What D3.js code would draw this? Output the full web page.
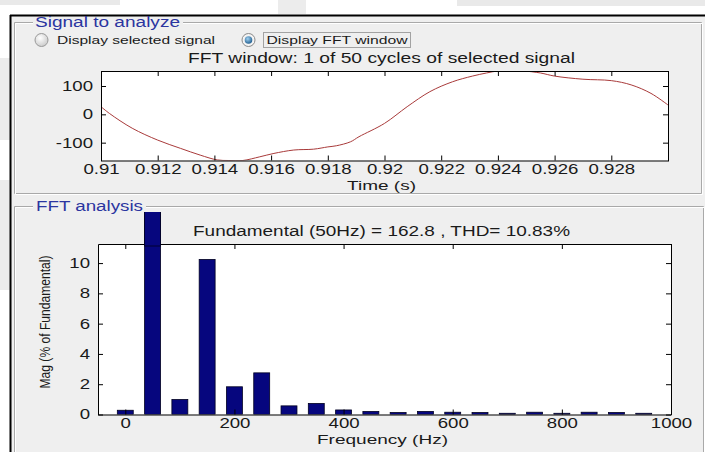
<!DOCTYPE html>
<html>
<head>
<meta charset="utf-8">
<script src="https://cdn.jsdelivr.net/npm/d3@7"></script>
<style>
  html, body { margin: 0; padding: 0; background: #ffffff; }
  svg { display: block; font-family: "Liberation Sans", Arial, Helvetica, sans-serif; }
</style>
</head>
<body>
<svg id="chart" width="705" height="452"></svg>
<script>
// ---- Signal to analyze: one cycle of the selected signal ----
const timeSec = [0.9100, 0.9103, 0.9111, 0.9120, 0.9128, 0.9135, 0.9141, 0.9145, 0.9150,
  0.9156, 0.9161, 0.9168, 0.9175, 0.9180, 0.9183, 0.9188, 0.9191, 0.9200, 0.9208,
  0.9216, 0.9224, 0.9231, 0.9236, 0.9240, 0.9245, 0.9249, 0.9255, 0.9260, 0.9270,
  0.9280, 0.9287, 0.9294, 0.9300];
const signalValues = [27, 3, -49, -91, -120, -144, -161, -163, -163,
  -150, -138, -126, -123, -115, -111, -97, -79, -32, 27,
  80, 115, 135, 146, 153, 153, 153, 146, 135, 124,
  119, 104, 74, 33];
const timeTicks = [0.91, 0.912, 0.914, 0.916, 0.918, 0.92, 0.922, 0.924, 0.926, 0.928];
const signalTicks = [-100, 0, 100];

// ---- FFT analysis: harmonic magnitudes (% of fundamental) ----
const harmonicFreqs = [0, 50, 100, 150, 200, 250, 300, 350, 400, 450, 500, 550, 600,
  650, 700, 750, 800, 850, 900, 950];
const harmonicMags = [0.28, 100, 0.99, 10.24, 1.83, 2.75, 0.57, 0.73, 0.30, 0.20, 0.13, 0.20, 0.15,
  0.13, 0.08, 0.15, 0.08, 0.15, 0.13, 0.08];
const freqTicks = [0, 200, 400, 600, 800, 1000];
const magTicks = [0, 2, 4, 6, 8, 10];

const fundamentalHz = 50;
const fundamentalAmp = 162.8;
const thdPercent = 10.83;
const cyclesTotal = 50;

const svg = d3.select("#chart");
const STRETCH = 1.33;   // wide GUI lettering
const textColor = "#1a1a1a";
const groupColor = "#2b35a0";

// stretch a text element horizontally, either by a factor or to a fixed width
function widen(sel, width) {
  sel.each(function () {
    const w = width != null ? width : this.getComputedTextLength() * STRETCH;
    d3.select(this).attr("textLength", w).attr("lengthAdjust", "spacingAndGlyphs");
  });
}

// ---- window background and outer frame ----
svg.append("rect").attr("x", 0).attr("y", 0).attr("width", 705).attr("height", 452).attr("fill", "#ffffff");
svg.append("rect").attr("x", 0).attr("y", 0).attr("width", 120).attr("height", 5).attr("fill", "#e9e9e9");
svg.append("rect").attr("x", 278).attr("y", 0).attr("width", 28).attr("height", 14).attr("fill", "#ececec");
svg.append("rect").attr("x", 457).attr("y", 0).attr("width", 248).attr("height", 6).attr("fill", "#e9e9e9");
svg.append("rect").attr("x", 0).attr("y", 58).attr("width", 10).attr("height", 82).attr("fill", "#ececec");
svg.append("rect").attr("x", 0).attr("y", 180).attr("width", 10).attr("height", 110).attr("fill", "#ececec");
svg.append("rect").attr("x", 11).attr("y", 16).attr("width", 694).attr("height", 436).attr("fill", "#efefef");
svg.append("line").attr("x1", 10).attr("x2", 705).attr("y1", 15.5).attr("y2", 15.5)
  .attr("stroke", "#000").attr("stroke-width", 2);
svg.append("line").attr("x1", 10.5).attr("x2", 10.5).attr("y1", 15).attr("y2", 452)
  .attr("stroke", "#000").attr("stroke-width", 2);

// group boxes (etched frame with a title gap)
function groupBox(x0, y0, x1, y1, gapStart, gapEnd) {
  const g = svg.append("g");
  const etched = [["#a9a9a9", 0], ["#ffffff", 1]];
  etched.forEach(([c, o]) => {
    const p = d3.path();
    p.moveTo(gapEnd, y0 + 0.5 + o); p.lineTo(x1 + 0.5 + o, y0 + 0.5 + o);
    if (y1 != null) { p.lineTo(x1 + 0.5 + o, y1 + 0.5 + o); p.lineTo(x0 + 0.5 + o, y1 + 0.5 + o); }
    else { p.lineTo(x1 + 0.5 + o, 452); p.moveTo(x0 + 0.5 + o, 452); }
    p.lineTo(x0 + 0.5 + o, y0 + 0.5 + o); p.lineTo(gapStart, y0 + 0.5 + o);
    g.append("path").attr("d", p.toString()).attr("fill", "none").attr("stroke", c).attr("stroke-width", 1);
  });
  return g;
}
groupBox(14, 22, 701, 193, 33, 183);
groupBox(14, 206, 703, null, 33, 146);

svg.append("text").attr("x", 35).attr("y", 26.5).attr("font-size", 14).attr("fill", groupColor)
  .text("Signal to analyze").call(widen, 145);
svg.append("text").attr("x", 36).attr("y", 211).attr("font-size", 14).attr("fill", groupColor)
  .text("FFT analysis").call(widen, 107);

// radio buttons
const defs = svg.append("defs");
const rg = defs.append("radialGradient").attr("id", "radioOff").attr("cx", "40%").attr("cy", "35%").attr("r", "70%");
rg.append("stop").attr("offset", "0%").attr("stop-color", "#ffffff");
rg.append("stop").attr("offset", "100%").attr("stop-color", "#c9c9c9");
const rb = defs.append("radialGradient").attr("id", "radioDot").attr("cx", "40%").attr("cy", "35%").attr("r", "70%");
rb.append("stop").attr("offset", "0%").attr("stop-color", "#9fd0f0");
rb.append("stop").attr("offset", "100%").attr("stop-color", "#1c5a8c");

svg.append("circle").attr("cx", 41.5).attr("cy", 40).attr("r", 6.5)
  .attr("fill", "url(#radioOff)").attr("stroke", "#9a9a9a");
svg.append("text").attr("x", 57).attr("y", 44).attr("font-size", 11).attr("fill", textColor)
  .text("Display selected signal").call(widen, 158);
svg.append("circle").attr("cx", 248.5).attr("cy", 40).attr("r", 6.5)
  .attr("fill", "#f4f4f4").attr("stroke", "#8a8a8a");
svg.append("circle").attr("cx", 248.5).attr("cy", 40).attr("r", 3.8).attr("fill", "url(#radioDot)");
svg.append("text").attr("x", 266.5).attr("y", 44).attr("font-size", 11).attr("fill", textColor)
  .text("Display FFT window").call(widen, 141);
svg.append("rect").attr("x", 263.5).attr("y", 32.5).attr("width", 147).attr("height", 15)
  .attr("fill", "none").attr("stroke", "#555").attr("stroke-dasharray", "1,1");

function styleAxis(g) {
  g.select(".domain").remove();
  g.selectAll(".tick line").attr("stroke", "#000");
  g.selectAll(".tick text").attr("fill", textColor).attr("font-size", 14).attr("font-family", null);
}
const plainNum = d => String(d);

// ---- upper axes: time signal ----
const sigBox = { l: 101, r: 668, t: 71, b: 160.5 };
const xT = d3.scaleLinear().domain([0.91, 0.93]).range([sigBox.l, sigBox.r]);
const yT = d3.scaleLinear().domain([-163, 153]).range([sigBox.b, sigBox.t]);

svg.append("rect").attr("x", sigBox.l).attr("y", sigBox.t).attr("width", sigBox.r - sigBox.l).attr("height", sigBox.b - sigBox.t)
  .attr("fill", "#ffffff");
defs.append("clipPath").attr("id", "clipSig").append("rect")
  .attr("x", sigBox.l).attr("y", sigBox.t).attr("width", sigBox.r - sigBox.l).attr("height", sigBox.b - sigBox.t);

const signalLine = d3.line().x((d, i) => xT(timeSec[i])).y(d => yT(d)).curve(d3.curveCatmullRom.alpha(0.5));
svg.append("path").datum(signalValues).attr("d", signalLine).attr("clip-path", "url(#clipSig)")
  .attr("fill", "none").attr("stroke", "#a83a3a").attr("stroke-width", 1);

const fmtTime = d => String(+d.toFixed(3));
svg.append("g").attr("transform", `translate(0,${sigBox.b})`)
  .call(d3.axisBottom(xT).tickValues(timeTicks).tickFormat(fmtTime).tickSizeInner(-5).tickSizeOuter(0).tickPadding(4))
  .call(styleAxis).call(g => g.selectAll(".tick text").call(widen));
svg.append("g").attr("transform", `translate(0,${sigBox.t})`)
  .call(d3.axisTop(xT).tickValues(timeTicks).tickFormat("").tickSizeInner(-5).tickSizeOuter(0))
  .call(styleAxis);
svg.append("g").attr("transform", `translate(${sigBox.l},0)`)
  .call(d3.axisLeft(yT).tickValues(signalTicks).tickFormat(plainNum).tickSizeInner(-5).tickSizeOuter(0).tickPadding(8))
  .call(styleAxis).call(g => g.selectAll(".tick text").call(widen));
svg.append("g").attr("transform", `translate(${sigBox.r},0)`)
  .call(d3.axisRight(yT).tickValues(signalTicks).tickFormat("").tickSizeInner(-5).tickSizeOuter(0))
  .call(styleAxis);
svg.append("rect").attr("x", sigBox.l + 0.5).attr("y", sigBox.t + 0.5).attr("width", sigBox.r - sigBox.l).attr("height", sigBox.b - sigBox.t)
  .attr("fill", "none").attr("stroke", "#000").attr("stroke-width", 1);

svg.append("text").attr("x", 381.5).attr("y", 62.5).attr("text-anchor", "middle").attr("font-size", 14)
  .attr("fill", textColor).text(`FFT window: 1 of ${cyclesTotal} cycles of selected signal`).call(widen, 387);
svg.append("text").attr("x", 381.5).attr("y", 189.5).attr("text-anchor", "middle").attr("font-size", 13)
  .attr("fill", textColor).text("Time (s)").call(widen, 69);

// ---- lower axes: harmonic spectrum ----
const fftBox = { l: 98, r: 671, t: 244, b: 414.5 };
const xB = d3.scaleLinear().domain([-50, 1000]).range([fftBox.l, fftBox.r]);
const yB = d3.scaleLinear().domain([0, 11.26]).range([fftBox.b, fftBox.t]);
const barHalfHz = 14.6;
const barTopLimit = 212;   // bars are cut where the panel title line runs

svg.append("rect").attr("x", fftBox.l).attr("y", fftBox.t).attr("width", fftBox.r - fftBox.l).attr("height", fftBox.b - fftBox.t)
  .attr("fill", "#ffffff");
defs.append("clipPath").attr("id", "clipBars").append("rect")
  .attr("x", fftBox.l).attr("y", barTopLimit).attr("width", fftBox.r - fftBox.l).attr("height", fftBox.b - barTopLimit);

const barIdx = harmonicMags.map((d, i) => i);
const barX = i => xB(harmonicFreqs[i] - barHalfHz);
const barW = i => xB(harmonicFreqs[i] + barHalfHz) - xB(harmonicFreqs[i] - barHalfHz);
svg.append("g").attr("clip-path", "url(#clipBars)")
  .selectAll("rect").data(barIdx).join("rect")
  .attr("x", barX).attr("width", barW)
  .attr("y", i => yB(harmonicMags[i]))
  .attr("height", i => fftBox.b - yB(harmonicMags[i]))
  .attr("fill", "#06067e").attr("stroke", "#000020").attr("stroke-width", 0.8);

svg.append("g").attr("transform", `translate(0,${fftBox.b})`)
  .call(d3.axisBottom(xB).tickValues(freqTicks).tickFormat(plainNum).tickSizeInner(-5).tickSizeOuter(0).tickPadding(3.5))
  .call(styleAxis).call(g => g.selectAll(".tick text").call(widen));
svg.append("g").attr("transform", `translate(0,${fftBox.t})`)
  .call(d3.axisTop(xB).tickValues(freqTicks).tickFormat("").tickSizeInner(-5).tickSizeOuter(0))
  .call(styleAxis);
svg.append("g").attr("transform", `translate(${fftBox.l},0)`)
  .call(d3.axisLeft(yB).tickValues(magTicks).tickFormat(plainNum).tickSizeInner(-5).tickSizeOuter(0).tickPadding(8))
  .call(styleAxis).call(g => g.selectAll(".tick text").call(widen));
svg.append("g").attr("transform", `translate(${fftBox.r},0)`)
  .call(d3.axisRight(yB).tickValues(magTicks).tickFormat("").tickSizeInner(-5).tickSizeOuter(0))
  .call(styleAxis);
svg.append("path")
  .attr("d", `M${fftBox.l + 0.5},${fftBox.t + 0.5}H${fftBox.r + 0.5}V${fftBox.b + 0.5}H${fftBox.l + 0.5}Z`)
  .attr("fill", "none").attr("stroke", "#000").attr("stroke-width", 1);
// bars taller than the axes rise above the frame; repaint their upper part over the top edge
svg.append("g").attr("clip-path", "url(#clipBars)")
  .selectAll("rect").data(barIdx.filter(i => harmonicMags[i] > yB.domain()[1])).join("rect")
  .attr("x", barX).attr("width", barW)
  .attr("y", i => yB(harmonicMags[i])).attr("height", i => fftBox.t + 2 - yB(harmonicMags[i]))
  .attr("fill", "#06067e").attr("stroke", "#000020").attr("stroke-width", 0.8);

svg.append("text").attr("x", 381.5).attr("y", 236).attr("text-anchor", "middle").attr("font-size", 14)
  .attr("fill", textColor)
  .text(`Fundamental (${fundamentalHz}Hz) = ${fundamentalAmp} , THD= ${thdPercent}%`).call(widen, 377);
svg.append("text").attr("x", 382.5).attr("y", 443.5).attr("text-anchor", "middle").attr("font-size", 13)
  .attr("fill", textColor).text("Frequency (Hz)").call(widen, 131);
svg.append("text").attr("transform", "translate(50,322) rotate(-90)").attr("text-anchor", "middle")
  .attr("font-size", 15.5).attr("font-family", "'Liberation Sans Narrow', 'Arial Narrow', 'Liberation Sans', sans-serif")
  .attr("fill", textColor).text("Mag (% of Fundamental)").call(widen, 133);
</script>
</body>
</html>
